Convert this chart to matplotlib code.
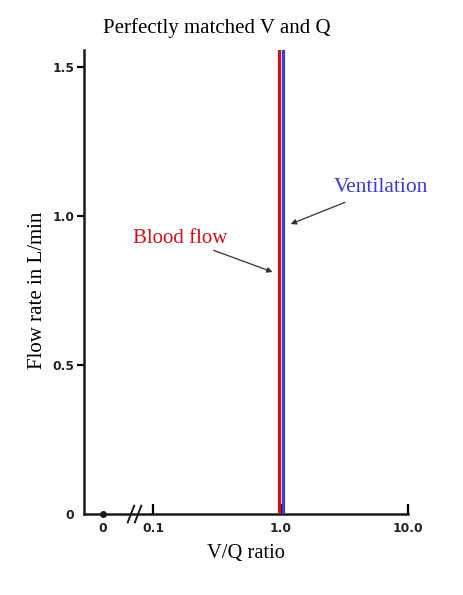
import numpy as np
import matplotlib.pyplot as plt

# V/Q ticks (the "0" is drawn as a fake position left of the axis break)
x_ticks = [0.0404, 0.1, 1.0, 10.0]
x_labels = ['0', '0.1', '1.0', '10.0']
y_ticks = [0, 0.5, 1.0, 1.5]
y_labels = ['0', '0.5', '1.0', '1.5']

# the two flows, drawn as vertical lines at their V/Q position
blood_vq = 0.965
vent_vq = 1.037
flow_top = 1.56

fig = plt.figure(figsize=(4.63, 5.95), dpi=100)
ax = fig.add_axes([0.1814, 0.1361, 0.6998, 0.7799])

ax.set_xscale('log')
ax.set_xlim(0.0286, 10.0)
ax.set_ylim(0, 1.557)

ax.vlines(blood_vq, 0, flow_top, color='#d4101c', lw=2.3, zorder=3)
ax.vlines(vent_vq, 0, flow_top, color='#3a3ad6', lw=2.3, zorder=3)

for s in ['top', 'right']:
    ax.spines[s].set_visible(False)
for s in ['left', 'bottom']:
    ax.spines[s].set_linewidth(1.8)
    ax.spines[s].set_color('#1a1a1a')

tickfont = dict(family='DejaVu Sans', weight='bold', size=8.8, color='#222222')
ax.set_xticks(x_ticks)
ax.set_xticklabels(x_labels, **tickfont)
ax.xaxis.set_minor_locator(plt.NullLocator())
ax.tick_params(axis='x', direction='in', length=7, width=1.6, pad=6)
ax.xaxis.get_major_ticks()[0].tick1line.set_visible(False)
ax.set_yticks(y_ticks)
ax.set_yticklabels(y_labels, **tickfont)
ax.tick_params(axis='y', direction='out', length=5, width=1.6, pad=2)
ax.yaxis.get_major_ticks()[0].tick1line.set_visible(False)

# dot for V/Q = 0 and the axis break
ax.plot([x_ticks[0]], [0], 'o', color='#1a1a1a', ms=4, clip_on=False, zorder=4)
for dx in [0.0, 0.022]:
    ax.plot([0.135 + dx, 0.155 + dx], [-0.018, 0.018], color='#1a1a1a', lw=1.4,
            transform=ax.transAxes, clip_on=False)

serif = ['Liberation Serif', 'DejaVu Serif']
fig.text(0.469, 0.953, 'Perfectly matched V and Q', ha='center', va='center',
         fontsize=15, family=serif)
ax.set_xlabel('V/Q ratio', fontsize=14.8, family=serif, labelpad=6)
ax.set_ylabel('Flow rate in L/min', fontsize=15, family=serif, labelpad=4)
ax.yaxis.label.set_y(0.483)

arrow = dict(arrowstyle='-|>', color='#333333', lw=0.9, mutation_scale=8, shrinkB=0)
ax.annotate('Blood flow', xy=(0.865, 0.812), xytext=(0.163, 0.926),
            ha='center', va='center', color='#d4101c', fontsize=15, family=serif,
            arrowprops=dict(arrow, shrinkA=0))
ax.annotate('Ventilation', xy=(1.199, 0.973), xytext=(6.13, 1.094),
            ha='center', va='center', color='#3a3ad6', fontsize=15.5, family=serif,
            arrowprops=dict(arrow, shrinkA=4), annotation_clip=False)

plt.savefig('out.png', dpi=100)
